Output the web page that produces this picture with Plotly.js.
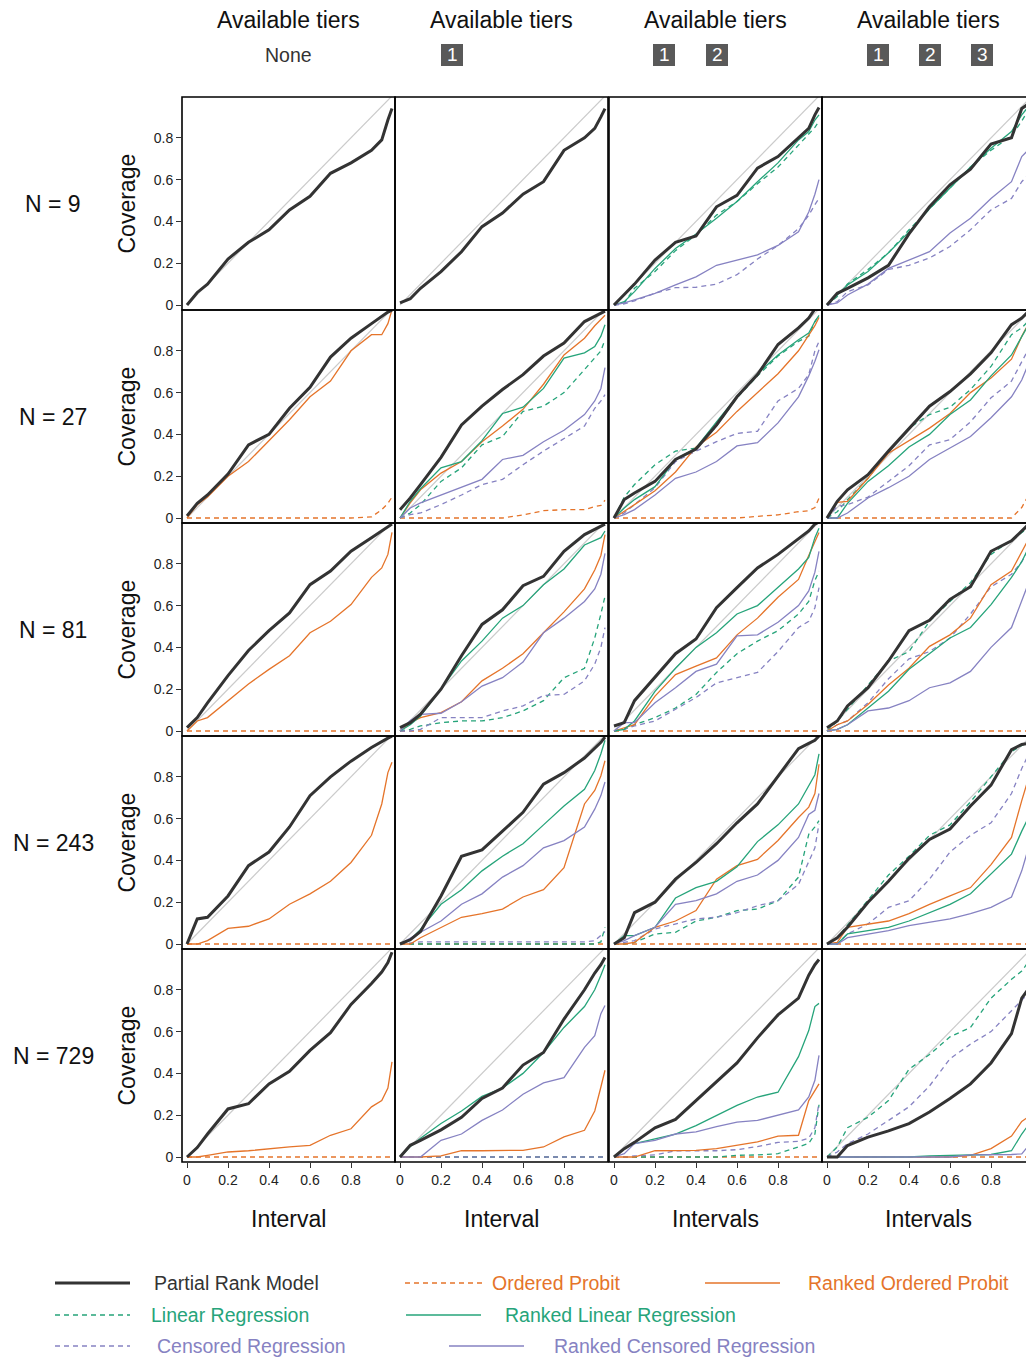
<!DOCTYPE html>
<html><head><meta charset="utf-8">
<script src="https://cdn.plot.ly/plotly-3.0.1.min.js"></script>
<style>html,body{margin:0;padding:0;background:#fff}#chart{width:1026px;height:1360px}</style>
</head><body><div id="chart"></div>
<script>
// ---------- shared axis / labels ----------
const X = [0, 0.05, 0.1, 0.2, 0.3, 0.4, 0.5, 0.6, 0.7, 0.8, 0.9, 0.95, 0.98, 1];
const DIAG = [0, 1];
const SAMPLE_SIZES = ['N = 9', 'N = 27', 'N = 81', 'N = 243', 'N = 729'];
const TIER_SETS = [[], ['1'], ['1', '2'], ['1', '2', '3']];
const X_TITLES = ['Interval', 'Interval', 'Intervals', 'Intervals'];
const TICK_VALS = [0, 0.2, 0.4, 0.6, 0.8];
const TICK_TEXT = ['0', '0.2', '0.4', '0.6', '0.8'];

// ---------- N = 9 ----------
const N9_T0_PRM = [0, 0.06, 0.10, 0.22, 0.30, 0.36, 0.455, 0.52, 0.63, 0.68, 0.74, 0.79, 0.885, 0.94];
const N9_T1_PRM = [0.01, 0.03, 0.08, 0.16, 0.255, 0.375, 0.44, 0.53, 0.59, 0.74, 0.80, 0.845, 0.90, 0.94];
const N9_T2_PRM = [0, 0.05, 0.10, 0.215, 0.30, 0.33, 0.47, 0.525, 0.655, 0.71, 0.80, 0.845, 0.91, 0.945];
const N9_T2_RLR = [0, 0.016, 0.064, 0.175, 0.27, 0.34, 0.415, 0.495, 0.59, 0.68, 0.79, 0.83, 0.885, 0.91];
const N9_T2_LR  = [0, 0.01, 0.08, 0.16, 0.26, 0.335, 0.43, 0.495, 0.58, 0.66, 0.765, 0.82, 0.85, 0.88];
const N9_T2_RCR = [0, 0.01, 0.025, 0.056, 0.096, 0.135, 0.19, 0.215, 0.24, 0.285, 0.35, 0.445, 0.53, 0.60];
const N9_T2_CR  = [0, 0.005, 0.02, 0.056, 0.083, 0.085, 0.10, 0.145, 0.22, 0.285, 0.365, 0.43, 0.48, 0.51];
const N9_T3_PRM = [0, 0.056, 0.08, 0.13, 0.19, 0.34, 0.47, 0.575, 0.65, 0.77, 0.80, 0.94, 0.96, 0.97];
const N9_T3_RLR = [0, 0.05, 0.096, 0.16, 0.25, 0.35, 0.46, 0.56, 0.66, 0.75, 0.83, 0.91, 0.95, 0.97];
const N9_T3_LR  = [0, 0.04, 0.10, 0.17, 0.25, 0.36, 0.46, 0.56, 0.66, 0.74, 0.81, 0.88, 0.93, 0.95];
const N9_T3_RCR = [0, 0.01, 0.048, 0.10, 0.175, 0.215, 0.255, 0.345, 0.415, 0.51, 0.59, 0.71, 0.74, 0.76];
const N9_T3_CR  = [0, 0.016, 0.064, 0.096, 0.17, 0.19, 0.225, 0.28, 0.36, 0.455, 0.51, 0.59, 0.62, 0.66];

// ---------- N = 27 ----------
const N27_T0_PRM = [0.01, 0.07, 0.11, 0.21, 0.35, 0.40, 0.525, 0.625, 0.77, 0.86, 0.93, 0.965, 0.985, 0.995];
const N27_T0_ROP = [0, 0.064, 0.10, 0.20, 0.27, 0.37, 0.47, 0.58, 0.655, 0.80, 0.877, 0.877, 0.93, 0.997];
const N27_T0_OP  = [0, 0, 0, 0, 0, 0, 0, 0, 0, 0, 0.005, 0.04, 0.07, 0.10];
const N27_T1_PRM = [0.04, 0.096, 0.16, 0.29, 0.445, 0.535, 0.615, 0.686, 0.775, 0.837, 0.94, 0.965, 0.98, 0.99];
const N27_T1_ROP = [0, 0.072, 0.135, 0.215, 0.27, 0.365, 0.44, 0.52, 0.64, 0.78, 0.86, 0.92, 0.95, 0.97];
const N27_T1_RLR = [0, 0.08, 0.14, 0.24, 0.27, 0.37, 0.50, 0.53, 0.62, 0.765, 0.79, 0.82, 0.87, 0.925];
const N27_T1_LR  = [0, 0.024, 0.064, 0.175, 0.24, 0.35, 0.39, 0.51, 0.535, 0.60, 0.71, 0.765, 0.80, 0.853];
const N27_T1_RCR = [0, 0.048, 0.072, 0.11, 0.145, 0.185, 0.28, 0.30, 0.365, 0.42, 0.495, 0.56, 0.62, 0.72];
const N27_T1_CR  = [0, 0.016, 0.024, 0.064, 0.11, 0.16, 0.185, 0.255, 0.32, 0.38, 0.44, 0.525, 0.56, 0.59];
const N27_T1_OP  = [0, 0, 0, 0, 0, 0, 0, 0.015, 0.035, 0.04, 0.04, 0.055, 0.06, 0.085];
const N27_T2_PRM = [0, 0.088, 0.12, 0.175, 0.28, 0.33, 0.445, 0.58, 0.686, 0.83, 0.91, 0.957, 1.0, 1.0];
const N27_T2_ROP = [0, 0.03, 0.064, 0.13, 0.22, 0.34, 0.41, 0.51, 0.60, 0.69, 0.80, 0.875, 0.92, 0.96];
const N27_T2_RLR = [0, 0.048, 0.088, 0.15, 0.28, 0.335, 0.46, 0.58, 0.69, 0.78, 0.853, 0.885, 0.94, 0.97];
const N27_T2_LR  = [0, 0.10, 0.16, 0.255, 0.32, 0.335, 0.44, 0.575, 0.68, 0.775, 0.845, 0.87, 0.94, 0.97];
const N27_T2_RCR = [0, 0.016, 0.04, 0.11, 0.19, 0.22, 0.27, 0.345, 0.36, 0.455, 0.58, 0.68, 0.75, 0.805];
const N27_T2_CR  = [0, 0.024, 0.064, 0.145, 0.27, 0.32, 0.365, 0.405, 0.415, 0.56, 0.62, 0.686, 0.80, 0.845];
const N27_T2_OP  = [0, 0, 0, 0, 0, 0, 0, 0, 0.008, 0.015, 0.03, 0.035, 0.05, 0.095];
const N27_T3_PRM = [0, 0.08, 0.135, 0.207, 0.32, 0.43, 0.535, 0.605, 0.69, 0.79, 0.925, 0.957, 0.985, 0.995];
const N27_T3_ROP = [0, 0.075, 0.08, 0.19, 0.31, 0.37, 0.43, 0.50, 0.60, 0.67, 0.76, 0.87, 0.93, 0.96];
const N27_T3_RLR = [0, 0, 0.07, 0.175, 0.25, 0.34, 0.40, 0.495, 0.565, 0.68, 0.78, 0.87, 0.92, 0.95];
const N27_T3_LR  = [0, 0.03, 0.088, 0.19, 0.32, 0.43, 0.495, 0.53, 0.615, 0.725, 0.877, 0.91, 0.94, 0.96];
const N27_T3_RCR = [0, 0, 0.024, 0.096, 0.145, 0.20, 0.28, 0.335, 0.39, 0.48, 0.58, 0.66, 0.74, 0.78];
const N27_T3_CR  = [0, 0.056, 0.064, 0.10, 0.175, 0.25, 0.35, 0.375, 0.46, 0.575, 0.655, 0.75, 0.80, 0.84];
const N27_T3_OP  = [0, 0, 0, 0, 0, 0, 0, 0, 0, 0, 0, 0.05, 0.11, 0.14];

// ---------- N = 81 ----------
const N81_T0_PRM = [0.016, 0.064, 0.135, 0.265, 0.385, 0.48, 0.565, 0.70, 0.765, 0.86, 0.925, 0.957, 0.98, 0.99];
const N81_T0_ROP = [0, 0.048, 0.064, 0.145, 0.225, 0.295, 0.36, 0.47, 0.525, 0.605, 0.735, 0.78, 0.845, 0.95];
const N81_T0_OP  = [0, 0, 0, 0, 0, 0, 0, 0, 0, 0, 0, 0, 0, 0];
const N81_T1_PRM = [0.016, 0.04, 0.08, 0.20, 0.36, 0.51, 0.58, 0.695, 0.74, 0.86, 0.94, 0.965, 0.98, 0.99];
const N81_T1_RLR = [0, 0.03, 0.072, 0.20, 0.335, 0.43, 0.54, 0.60, 0.70, 0.775, 0.89, 0.91, 0.925, 0.957];
const N81_T1_ROP = [0, 0.04, 0.064, 0.088, 0.14, 0.24, 0.30, 0.37, 0.47, 0.57, 0.68, 0.77, 0.84, 0.94];
const N81_T1_RCR = [0, 0.05, 0.08, 0.085, 0.14, 0.215, 0.255, 0.33, 0.47, 0.54, 0.62, 0.68, 0.75, 0.85];
const N81_T1_LR  = [0, 0.008, 0.024, 0.04, 0.048, 0.048, 0.064, 0.096, 0.145, 0.255, 0.30, 0.445, 0.56, 0.645];
const N81_T1_CR  = [0, 0, 0.008, 0.064, 0.064, 0.064, 0.096, 0.12, 0.17, 0.175, 0.24, 0.32, 0.40, 0.495];
const N81_T1_OP  = [0, 0, 0, 0, 0, 0, 0, 0, 0, 0, 0, 0, 0, 0];
const N81_T2_PRM = [0.024, 0.04, 0.145, 0.255, 0.37, 0.44, 0.59, 0.686, 0.78, 0.845, 0.917, 0.957, 0.99, 1.0];
const N81_T2_RLR = [0, 0.008, 0.048, 0.19, 0.30, 0.40, 0.47, 0.56, 0.60, 0.686, 0.775, 0.83, 0.925, 0.97];
const N81_T2_ROP = [0, 0.016, 0.03, 0.167, 0.27, 0.31, 0.35, 0.46, 0.54, 0.64, 0.725, 0.84, 0.91, 0.95];
const N81_T2_RCR = [0, 0.04, 0.04, 0.135, 0.207, 0.285, 0.32, 0.455, 0.46, 0.52, 0.60, 0.67, 0.76, 0.86];
const N81_T2_LR  = [0, 0.008, 0.03, 0.064, 0.11, 0.175, 0.28, 0.37, 0.43, 0.48, 0.56, 0.62, 0.72, 0.765];
const N81_T2_CR  = [0, 0.008, 0.024, 0.048, 0.104, 0.16, 0.23, 0.255, 0.28, 0.38, 0.495, 0.525, 0.59, 0.686];
const N81_T2_OP  = [0, 0, 0, 0, 0, 0, 0, 0, 0, 0, 0, 0, 0, 0];
const N81_T3_PRM = [0.016, 0.048, 0.12, 0.207, 0.335, 0.48, 0.53, 0.63, 0.69, 0.86, 0.91, 0.96, 0.985, 0.995];
const N81_T3_LR  = [0, 0.048, 0.104, 0.22, 0.335, 0.38, 0.525, 0.62, 0.71, 0.845, 0.917, 0.95, 0.97, 0.98];
const N81_T3_ROP = [0, 0.03, 0.048, 0.127, 0.22, 0.30, 0.405, 0.46, 0.54, 0.70, 0.765, 0.86, 0.92, 0.95];
const N81_T3_RLR = [0, 0.008, 0.03, 0.11, 0.19, 0.295, 0.37, 0.445, 0.495, 0.605, 0.735, 0.81, 0.87, 0.91];
const N81_T3_CR  = [0, 0.03, 0.048, 0.135, 0.25, 0.345, 0.38, 0.445, 0.56, 0.69, 0.75, 0.81, 0.86, 0.90];
const N81_T3_RCR = [0, 0.008, 0.03, 0.096, 0.11, 0.145, 0.207, 0.23, 0.285, 0.40, 0.495, 0.62, 0.70, 0.78];
const N81_T3_OP  = [0, 0, 0, 0, 0, 0, 0, 0, 0, 0, 0, 0, 0, 0];

// ---------- N = 243 ----------
const N243_T0_PRM = [0, 0.12, 0.128, 0.23, 0.375, 0.44, 0.56, 0.71, 0.80, 0.875, 0.94, 0.97, 0.985, 0.995];
const N243_T0_ROP = [0, 0, 0.016, 0.075, 0.085, 0.12, 0.19, 0.24, 0.30, 0.39, 0.52, 0.67, 0.82, 0.87];
const N243_T0_OP  = [0, 0, 0, 0, 0, 0, 0, 0, 0, 0, 0, 0, 0, 0];
const N243_T1_PRM = [0, 0.02, 0.06, 0.23, 0.42, 0.45, 0.54, 0.63, 0.765, 0.82, 0.89, 0.935, 0.965, 0.99];
const N243_T1_RLR = [0, 0.02, 0.07, 0.19, 0.26, 0.35, 0.42, 0.48, 0.57, 0.66, 0.74, 0.83, 0.91, 0.975];
const N243_T1_RCR = [0, 0.03, 0.056, 0.11, 0.19, 0.24, 0.32, 0.375, 0.46, 0.495, 0.56, 0.645, 0.71, 0.775];
const N243_T1_ROP = [0, 0, 0.03, 0.08, 0.128, 0.145, 0.167, 0.225, 0.26, 0.365, 0.67, 0.735, 0.805, 0.877];
const N243_T1_LR  = [0, 0, 0, 0, 0, 0, 0, 0, 0, 0, 0, 0, 0.01, 0.08];
const N243_T1_CR  = [0, 0.005, 0.01, 0.01, 0.01, 0.01, 0.01, 0.01, 0.01, 0.01, 0.01, 0.015, 0.04, 0.06];
const N243_T1_OP  = [0, 0, 0, 0, 0, 0, 0, 0, 0, 0, 0, 0, 0, 0];
const N243_T2_PRM = [0, 0.03, 0.15, 0.20, 0.31, 0.39, 0.48, 0.58, 0.67, 0.80, 0.935, 0.96, 0.975, 0.995];
const N243_T2_RLR = [0, 0.04, 0.04, 0.08, 0.22, 0.27, 0.30, 0.37, 0.49, 0.57, 0.67, 0.76, 0.81, 0.91];
const N243_T2_ROP = [0, 0, 0.008, 0.08, 0.11, 0.16, 0.31, 0.375, 0.405, 0.495, 0.605, 0.655, 0.72, 0.86];
const N243_T2_RCR = [0, 0.016, 0.04, 0.08, 0.19, 0.207, 0.24, 0.30, 0.33, 0.40, 0.51, 0.62, 0.64, 0.72];
const N243_T2_LR  = [0, 0, 0.008, 0.048, 0.056, 0.11, 0.128, 0.16, 0.167, 0.207, 0.32, 0.525, 0.56, 0.59];
const N243_T2_CR  = [0, 0.008, 0.016, 0.072, 0.096, 0.12, 0.128, 0.15, 0.183, 0.207, 0.285, 0.40, 0.46, 0.575];
const N243_T2_OP  = [0, 0, 0, 0, 0, 0, 0, 0, 0, 0, 0, 0, 0, 0];
const N243_T3_PRM = [0, 0.03, 0.08, 0.20, 0.30, 0.41, 0.50, 0.55, 0.66, 0.76, 0.93, 0.955, 0.96, 0.97];
const N243_T3_LR  = [0, 0.03, 0.09, 0.21, 0.33, 0.42, 0.52, 0.57, 0.68, 0.80, 0.92, 0.95, 0.96, 0.97];
const N243_T3_CR  = [0, 0, 0.048, 0.096, 0.175, 0.207, 0.31, 0.44, 0.52, 0.58, 0.72, 0.84, 0.90, 0.93];
const N243_T3_ROP = [0, 0.008, 0.08, 0.096, 0.11, 0.145, 0.19, 0.23, 0.27, 0.38, 0.51, 0.686, 0.78, 0.85];
const N243_T3_RLR = [0, 0, 0.048, 0.064, 0.08, 0.11, 0.15, 0.19, 0.24, 0.335, 0.43, 0.54, 0.60, 0.66];
const N243_T3_RCR = [0, 0, 0.03, 0.048, 0.064, 0.088, 0.104, 0.12, 0.145, 0.175, 0.225, 0.35, 0.45, 0.52];
const N243_T3_OP  = [0, 0, 0, 0, 0, 0, 0, 0, 0, 0, 0, 0, 0, 0];

// ---------- N = 729 ----------
const N729_T0_PRM = [0, 0.045, 0.11, 0.23, 0.255, 0.35, 0.41, 0.51, 0.595, 0.73, 0.83, 0.885, 0.93, 0.98];
const N729_T0_ROP = [0, 0, 0.008, 0.024, 0.03, 0.04, 0.048, 0.056, 0.104, 0.135, 0.24, 0.27, 0.33, 0.455];
const N729_T0_OP  = [0, 0, 0, 0, 0, 0, 0, 0, 0, 0, 0, 0, 0, 0];
const N729_T1_PRM = [0, 0.056, 0.08, 0.13, 0.19, 0.28, 0.33, 0.44, 0.50, 0.66, 0.80, 0.88, 0.92, 0.955];
const N729_T1_RLR = [0, 0.05, 0.09, 0.16, 0.22, 0.29, 0.33, 0.40, 0.50, 0.62, 0.72, 0.80, 0.87, 0.92];
const N729_T1_RCR = [0, 0, 0, 0.08, 0.11, 0.175, 0.225, 0.30, 0.355, 0.38, 0.525, 0.58, 0.686, 0.725];
const N729_T1_ROP = [0, 0, 0, 0.005, 0.03, 0.03, 0.03, 0.032, 0.048, 0.096, 0.128, 0.22, 0.335, 0.415];
const N729_T1_LR  = [0, 0, 0, 0, 0, 0, 0, 0, 0, 0, 0, 0, 0, 0];
const N729_T1_CR  = [0, 0, 0, 0, 0, 0, 0, 0, 0, 0, 0, 0, 0, 0];
const N729_T1_OP  = [0, 0, 0, 0, 0, 0, 0, 0, 0, 0, 0, 0, 0, 0];
const N729_T2_PRM = [0, 0.04, 0.07, 0.14, 0.18, 0.27, 0.36, 0.45, 0.57, 0.68, 0.76, 0.87, 0.92, 0.945];
const N729_T2_RLR = [0, 0.04, 0.064, 0.088, 0.11, 0.15, 0.20, 0.247, 0.287, 0.31, 0.48, 0.605, 0.72, 0.735];
const N729_T2_RCR = [0, 0.016, 0.064, 0.08, 0.11, 0.12, 0.145, 0.167, 0.175, 0.20, 0.225, 0.287, 0.367, 0.486];
const N729_T2_ROP = [0, 0, 0, 0.03, 0.032, 0.032, 0.04, 0.056, 0.072, 0.10, 0.104, 0.27, 0.32, 0.35];
const N729_T2_CR  = [0, 0, 0.005, 0.01, 0.03, 0.03, 0.03, 0.035, 0.05, 0.07, 0.075, 0.09, 0.14, 0.26];
const N729_T2_LR  = [0, 0, 0, 0, 0, 0, 0, 0.008, 0.01, 0.016, 0.05, 0.065, 0.11, 0.25];
const N729_T2_OP  = [0, 0, 0, 0, 0, 0, 0, 0, 0, 0, 0, 0, 0, 0];
const N729_T3_PRM = [0, 0, 0.055, 0.095, 0.125, 0.16, 0.215, 0.28, 0.35, 0.45, 0.59, 0.76, 0.80, 0.83];
const N729_T3_LR  = [0, 0.048, 0.14, 0.19, 0.27, 0.42, 0.49, 0.575, 0.62, 0.76, 0.85, 0.89, 0.93, 0.95];
const N729_T3_CR  = [0, 0.024, 0.064, 0.11, 0.175, 0.24, 0.34, 0.47, 0.54, 0.60, 0.70, 0.75, 0.78, 0.80];
const N729_T3_ROP = [0, 0, 0, 0, 0, 0, 0, 0, 0.008, 0.04, 0.10, 0.17, 0.19, 0.21];
const N729_T3_RLR = [0, 0, 0, 0, 0, 0, 0.005, 0.008, 0.01, 0.012, 0.03, 0.11, 0.15, 0.17];
const N729_T3_RCR = [0, 0, 0, 0, 0, 0, 0, 0, 0.01, 0.01, 0.012, 0.015, 0.05, 0.08];
const N729_T3_OP  = [0, 0, 0, 0, 0, 0, 0, 0, 0, 0, 0, 0, 0, 0];

// panel table (rows = sample size, columns = available tiers)
const PANELS = [
  [{prm: N9_T0_PRM}, {prm: N9_T1_PRM},
   {prm: N9_T2_PRM, rlr: N9_T2_RLR, lr: N9_T2_LR, rcr: N9_T2_RCR, cr: N9_T2_CR},
   {prm: N9_T3_PRM, rlr: N9_T3_RLR, lr: N9_T3_LR, rcr: N9_T3_RCR, cr: N9_T3_CR}],
  [{prm: N27_T0_PRM, rop: N27_T0_ROP, op: N27_T0_OP},
   {prm: N27_T1_PRM, rop: N27_T1_ROP, rlr: N27_T1_RLR, lr: N27_T1_LR, rcr: N27_T1_RCR, cr: N27_T1_CR, op: N27_T1_OP},
   {prm: N27_T2_PRM, rop: N27_T2_ROP, rlr: N27_T2_RLR, lr: N27_T2_LR, rcr: N27_T2_RCR, cr: N27_T2_CR, op: N27_T2_OP},
   {prm: N27_T3_PRM, rop: N27_T3_ROP, rlr: N27_T3_RLR, lr: N27_T3_LR, rcr: N27_T3_RCR, cr: N27_T3_CR, op: N27_T3_OP}],
  [{prm: N81_T0_PRM, rop: N81_T0_ROP, op: N81_T0_OP},
   {prm: N81_T1_PRM, rop: N81_T1_ROP, rlr: N81_T1_RLR, lr: N81_T1_LR, rcr: N81_T1_RCR, cr: N81_T1_CR, op: N81_T1_OP},
   {prm: N81_T2_PRM, rop: N81_T2_ROP, rlr: N81_T2_RLR, lr: N81_T2_LR, rcr: N81_T2_RCR, cr: N81_T2_CR, op: N81_T2_OP},
   {prm: N81_T3_PRM, rop: N81_T3_ROP, rlr: N81_T3_RLR, lr: N81_T3_LR, rcr: N81_T3_RCR, cr: N81_T3_CR, op: N81_T3_OP}],
  [{prm: N243_T0_PRM, rop: N243_T0_ROP, op: N243_T0_OP},
   {prm: N243_T1_PRM, rop: N243_T1_ROP, rlr: N243_T1_RLR, lr: N243_T1_LR, rcr: N243_T1_RCR, cr: N243_T1_CR, op: N243_T1_OP},
   {prm: N243_T2_PRM, rop: N243_T2_ROP, rlr: N243_T2_RLR, lr: N243_T2_LR, rcr: N243_T2_RCR, cr: N243_T2_CR, op: N243_T2_OP},
   {prm: N243_T3_PRM, rop: N243_T3_ROP, rlr: N243_T3_RLR, lr: N243_T3_LR, rcr: N243_T3_RCR, cr: N243_T3_CR, op: N243_T3_OP}],
  [{prm: N729_T0_PRM, rop: N729_T0_ROP, op: N729_T0_OP},
   {prm: N729_T1_PRM, rop: N729_T1_ROP, rlr: N729_T1_RLR, lr: N729_T1_LR, rcr: N729_T1_RCR, cr: N729_T1_CR, op: N729_T1_OP},
   {prm: N729_T2_PRM, rop: N729_T2_ROP, rlr: N729_T2_RLR, lr: N729_T2_LR, rcr: N729_T2_RCR, cr: N729_T2_CR, op: N729_T2_OP},
   {prm: N729_T3_PRM, rop: N729_T3_ROP, rlr: N729_T3_RLR, lr: N729_T3_LR, rcr: N729_T3_RCR, cr: N729_T3_CR, op: N729_T3_OP}]
];

// ---------- styles / layout geometry ----------
const ORANGE = '#E5742A', GREEN = '#26A47A', PURPLE = '#8682C2', DARK = '#333333';
const DASH = '5px,4px';
const STYLE = {
  op:  {name: 'Ordered Probit', color: ORANGE, width: 1.3, dash: DASH},
  lr:  {name: 'Linear Regression', color: GREEN, width: 1.3, dash: DASH},
  cr:  {name: 'Censored Regression', color: PURPLE, width: 1.3, dash: DASH},
  rop: {name: 'Ranked Ordered Probit', color: ORANGE, width: 1.3, dash: 'solid'},
  rlr: {name: 'Ranked Linear Regression', color: GREEN, width: 1.3, dash: 'solid'},
  rcr: {name: 'Ranked Censored Regression', color: PURPLE, width: 1.3, dash: 'solid'},
  prm: {name: 'Partial Rank Model', color: DARK, width: 3, dash: 'solid'}
};
const DRAW_ORDER = ['op', 'lr', 'cr', 'rop', 'rlr', 'rcr', 'prm'];
const LEGEND_ROWS = [
  [{k: 'prm', x0: 55, x1: 130, tx: 152}, {k: 'op', x0: 405, x1: 482, tx: 490}, {k: 'rop', x0: 705, x1: 780, tx: 806}],
  [{k: 'lr', x0: 55, x1: 130, tx: 149}, {k: 'rlr', x0: 406, x1: 481, tx: 503}],
  [{k: 'cr', x0: 55, x1: 130, tx: 155}, {k: 'rcr', x0: 449, x1: 524, tx: 552}]
];
const LEGEND_Y = [1283, 1315, 1346];
const TIER_BOX_X = [[], [452], [664, 717], [878, 930, 982]];

const W = 1026, H = 1360, PW = 213, PH = 213;
const COL_LEFT = [182, 395, 609, 822];
const ROW_TOP = [97, 310, 523, 736, 949];
const XS = 205, YS = 209, OFF = 5;
const FONT = 'Liberation Sans, Arial, Helvetica, sans-serif';
const px = v => v / W;
const py = v => 1 - v / H;

const traces = [];
const layout = {
  width: W, height: H, margin: {l: 0, r: 0, t: 0, b: 0},
  paper_bgcolor: '#ffffff', plot_bgcolor: '#ffffff',
  showlegend: false, font: {family: FONT, color: '#222'},
  shapes: [], annotations: []
};

for (let r = 0; r < 5; r++) {
  for (let c = 0; c < 4; c++) {
    const idx = r * 4 + c + 1;
    const sfx = idx === 1 ? '' : String(idx);
    const left = COL_LEFT[c], top = ROW_TOP[r];
    const right = Math.min(W, left + PW);
    const xa = {
      domain: [px(left), px(right)],
      range: [-OFF / XS, (right - left - OFF) / XS],
      anchor: 'y' + sfx, showgrid: false, zeroline: false, showline: false,
      fixedrange: true, tickvals: TICK_VALS, ticktext: TICK_TEXT,
      showticklabels: r === 4, ticks: r === 4 ? 'outside' : '',
      ticklen: 5, tickwidth: 1, tickcolor: '#333',
      tickfont: {family: FONT, size: 14, color: '#222'}
    };
    const ya = {
      domain: [py(top + PH), py(top)],
      range: [-OFF / YS, (PH - OFF) / YS],
      anchor: 'x' + sfx, showgrid: false, zeroline: false, showline: false,
      fixedrange: true, tickvals: TICK_VALS, ticktext: TICK_TEXT,
      showticklabels: c === 0, ticks: c === 0 ? 'outside' : '',
      ticklen: 5, tickwidth: 1, tickcolor: '#333',
      tickfont: {family: FONT, size: 14, color: '#222'}
    };
    layout['xaxis' + sfx] = xa;
    layout['yaxis' + sfx] = ya;

    traces.push({x: DIAG, y: DIAG, xaxis: 'x' + sfx, yaxis: 'y' + sfx, mode: 'lines',
      line: {color: '#CBCBCB', width: 1.2}, hoverinfo: 'skip'});
    const p = PANELS[r][c];
    DRAW_ORDER.forEach(k => {
      if (!p[k]) return;
      const s = STYLE[k];
      traces.push({x: X, y: p[k], xaxis: 'x' + sfx, yaxis: 'y' + sfx, mode: 'lines',
        name: s.name, line: {color: s.color, width: s.width, dash: s.dash}, hoverinfo: 'skip'});
    });

    // panel frame
    if (c < 3) {
      layout.shapes.push({type: 'rect', xref: 'paper', yref: 'paper',
        x0: px(left), x1: px(left + PW), y0: py(top + PH), y1: py(top),
        line: {color: '#000', width: 1.6}, fillcolor: 'rgba(0,0,0,0)'});
    } else {
      layout.shapes.push({type: 'path', xref: 'paper', yref: 'paper',
        path: `M ${px(W + 5)} ${py(top)} L ${px(left)} ${py(top)} L ${px(left)} ${py(top + PH)} L ${px(W + 5)} ${py(top + PH)}`,
        line: {color: '#000', width: 1.6}});
    }
  }
}

// column headers
for (let c = 0; c < 4; c++) {
  const cx = COL_LEFT[c] + PW / 2;
  layout.annotations.push({xref: 'paper', yref: 'paper', x: px(cx), y: py(20), text: 'Available tiers',
    showarrow: false, xanchor: 'center', yanchor: 'middle', font: {family: FONT, size: 23, color: '#111'}});
  if (TIER_SETS[c].length === 0) {
    layout.annotations.push({xref: 'paper', yref: 'paper', x: px(cx), y: py(55), text: 'None',
      showarrow: false, xanchor: 'center', yanchor: 'middle', font: {family: FONT, size: 19.5, color: '#333'}});
  }
  TIER_SETS[c].forEach((t, i) => {
    const bx = TIER_BOX_X[c][i];
    layout.shapes.push({type: 'rect', xref: 'paper', yref: 'paper',
      x0: px(bx - 11), x1: px(bx + 11), y0: py(66), y1: py(44),
      fillcolor: '#595959', line: {width: 0}});
    layout.annotations.push({xref: 'paper', yref: 'paper', x: px(bx), y: py(55), text: t,
      showarrow: false, xanchor: 'center', yanchor: 'middle', font: {family: FONT, size: 19, color: '#ffffff'}});
  });
  layout.annotations.push({xref: 'paper', yref: 'paper', x: px(cx), y: py(1219), text: X_TITLES[c],
    showarrow: false, xanchor: 'center', yanchor: 'middle', font: {family: FONT, size: 23, color: '#111'}});
}

// row labels
for (let r = 0; r < 5; r++) {
  const cy = ROW_TOP[r] + PH / 2;
  layout.annotations.push({xref: 'paper', yref: 'paper', x: px(53), y: py(cy), text: SAMPLE_SIZES[r],
    showarrow: false, xanchor: 'center', yanchor: 'middle', font: {family: FONT, size: 23, color: '#111'}});
  layout.annotations.push({xref: 'paper', yref: 'paper', x: px(126), y: py(cy), text: 'Coverage',
    textangle: -90, showarrow: false, xanchor: 'center', yanchor: 'middle', font: {family: FONT, size: 23, color: '#111'}});
}

// legend
LEGEND_ROWS.forEach((row, i) => {
  const ly = LEGEND_Y[i];
  row.forEach(it => {
    const s = STYLE[it.k];
    layout.shapes.push({type: 'line', xref: 'paper', yref: 'paper',
      x0: px(it.x0), x1: px(it.x1), y0: py(ly), y1: py(ly),
      line: {color: s.color, width: it.k === 'prm' ? 3 : 1.3, dash: s.dash}});
    layout.annotations.push({xref: 'paper', yref: 'paper', x: px(it.tx), y: py(ly), text: s.name,
      showarrow: false, xanchor: 'left', yanchor: 'middle',
      font: {family: FONT, size: 19.5, color: it.k === 'prm' ? '#333' : s.color}});
  });
});

Plotly.newPlot('chart', traces, layout, {staticPlot: true, displayModeBar: false});
</script>
</body></html>
